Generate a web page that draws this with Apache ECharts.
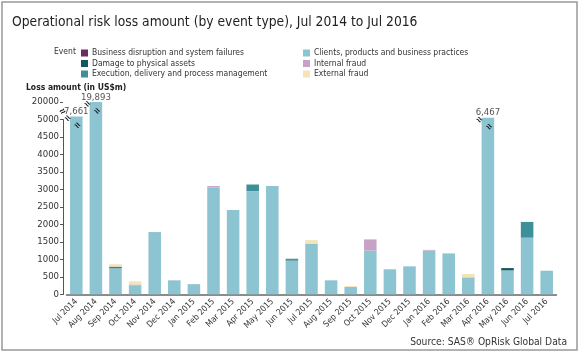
<!DOCTYPE html>
<html>
<head>
<meta charset="utf-8">
<script src="https://cdn.jsdelivr.net/npm/echarts@6/dist/echarts.min.js"></script>
<style>html,body{margin:0;padding:0;background:#fff;}#c{width:580px;height:358px;}</style>
</head>
<body>
<div id="c"></div>
<script>
const categories = ['Jul 2014','Aug 2014','Sep 2014','Oct 2014','Nov 2014','Dec 2014','Jan 2015','Feb 2015','Mar 2015','Apr 2015','May 2015','Jun 2015','Jul 2015','Aug 2015','Sep 2015','Oct 2015','Nov 2015','Dec 2015','Jan 2016','Feb 2016','Mar 2016','Apr 2016','May 2016','Jun 2016','Jul 2016'];
const clients   = [7661,19893,740,260,1780,400,285,3050,2410,2950,3100,960,1450,400,210,1250,715,800,1250,1170,485,6467,685,1620,675];
const execution = [0,0,20,0,0,0,5,0,0,190,0,35,0,0,0,0,0,0,0,0,0,0,0,450,0];
const damage    = [0,0,30,0,0,0,0,0,0,0,0,20,0,0,0,0,0,0,0,0,0,0,65,0,0];
const business  = [0,0,0,0,0,0,0,0,0,0,0,0,0,0,0,0,0,0,0,0,0,0,0,0,0];
const internal  = [0,0,0,20,0,0,0,45,0,0,0,0,0,0,0,320,0,0,20,0,0,0,0,0,0];
const external  = [0,0,70,90,0,0,0,0,0,0,0,0,100,0,25,0,0,0,0,0,95,0,0,0,0];
const breakStart = 5000, breakEnd = 20000;

const names = ['Business disruption and system failures','Damage to physical assets','Execution, delivery and process management','Clients, products and business practices','Internal fraud','External fraud'];
const colors = {
  'Business disruption and system failures':'#6b2e5f',
  'Damage to physical assets':'#14585f',
  'Execution, delivery and process management':'#3f8f9a',
  'Clients, products and business practices':'#8dc4d1',
  'Internal fraud':'#c8a2c6',
  'External fraud':'#f3e3b8'
};
const totals = categories.map((c,i)=>clients[i]+execution[i]+damage[i]+business[i]+internal[i]+external[i]);

const cv = document.createElement('canvas').getContext('2d');
function w(font, txt){ cv.font = font; return cv.measureText(txt).width; }
const probe = 'abcdefghijklmnopqrstuvwxyz ABCDEFGHIJ 0123456789';
function has(f){ return w('20px "'+f+'", monospace', probe) !== w('20px monospace', probe); }
const cands = ['Liberation Sans Narrow','DejaVu Sans Condensed','Roboto Condensed','Open Sans Condensed','Roboto'];
let FAM = 'Roboto';
for (const f of cands) { if (has(f)) { FAM = f; break; } }
const FONT = '"'+FAM+'", Roboto, sans-serif';
function fit(txt, target, maxSize, weight){
  const base = w((weight||'normal')+' 20px '+FONT, txt);
  return Math.min(maxSize, 20*target/base);
}
const titleSize = fit('Operational risk loss amount (by event type), Jul 2014 to Jul 2016', 406, 20);
const legSize = 8.5;
const srcSize = fit('Source: SAS® OpRisk Global Data', 157, 11);
const ynameSize = Math.max(8.5, fit('Loss amount (in US$m)', 92, 9.5, 'bold'));
const ylabSize = Math.max(9.5, fit('20000', 21, 10.5));
const xlabSize = Math.max(8.5, fit('Aug 2014', 33, 9.5));

const marks = [];
totals.forEach((t,i)=>{
  if (t > breakStart) {
    marks.push({coord:[i,t], value:t, label:{show:true, position:'inside', formatter: t.toLocaleString('en-US'), offset:[0,-5], color:'#555', fontSize:ylabSize, fontFamily:FONT}});
    marks.push({coord:[i,t], value:t, label:{show:true, position:'inside', formatter:'≈', offset:[-6,7], rotate:-35, color:'#111', fontSize:10, fontWeight:'bold'}});
    marks.push({coord:[i,t], value:t, label:{show:true, position:'inside', formatter:'≈', offset:[6,7], rotate:-35, color:'#111', fontSize:10, fontWeight:'bold'}});
  }
});

function mkSeries(name, data, extra) {
  return Object.assign({
    name: name, type:'bar', stack:'total', data: data,
    barCategoryGap:'36%',
    itemStyle:{color: colors[name]},
    emphasis:{disabled:true}
  }, extra||{});
}

const series = [
  mkSeries('Clients, products and business practices', clients),
  mkSeries('Execution, delivery and process management', execution),
  mkSeries('Damage to physical assets', damage),
  mkSeries('Business disruption and system failures', business),
  mkSeries('Internal fraud', internal),
  mkSeries('External fraud', external, {markPoint:{symbol:'circle', symbolSize:1, itemStyle:{color:'rgba(0,0,0,0)'}, data: marks, silent:true}})
];

const legText = {fontFamily:FONT, fontSize:legSize, color:'#333', padding:[0,0,0,-1], lineHeight:10};
const legBase = {orient:'vertical', itemWidth:7, itemHeight:7, itemGap:0.5, icon:'rect', selectedMode:false, padding:0, textStyle:legText};
const chart = echarts.init(document.getElementById('c'), null, {renderer:'canvas'});
chart.setOption({
  animation:false,
  backgroundColor:'#fff',
  title:[
    {text:'Operational risk loss amount (by event type), Jul 2014 to Jul 2016', left:7, top:10, textStyle:{fontFamily:FONT, fontSize:titleSize, fontWeight:'normal', color:'#222'}},
    {text:'Event', left:49, top:42, textStyle:{fontFamily:FONT, fontSize:legSize, fontWeight:'normal', color:'#333'}},
    {text:'Loss amount (in US$m)', left:21, top:78, textStyle:{fontFamily:FONT, fontSize:ynameSize, fontWeight:'bold', color:'#222'}},
    {text:'Source: SAS® OpRisk Global Data', right:8, top:332, textStyle:{fontFamily:FONT, fontSize:srcSize, fontWeight:'normal', color:'#333'}}
  ],
  legend:[
    Object.assign({data:names.slice(0,3), left:81, top:48}, legBase),
    Object.assign({data:names.slice(3), left:303, top:48}, legBase)
  ],
  grid:{left:66.5, right:23.5, top:102, bottom:63.7},
  xAxis:{
    type:'category', data:categories,
    axisLine:{lineStyle:{color:'#666', width:1.5}},
    axisTick:{show:false},
    axisLabel:{rotate:45, fontFamily:FONT, fontSize:xlabSize, color:'#333', margin:6, interval:0}
  },
  yAxis:{
    type:'value', min:0, max:breakEnd, interval:500, offset:3.5,
    breaks:[{start:breakStart, end:breakEnd, gap:500}],
    breakArea:{show:false},
    axisLine:{show:true, lineStyle:{color:'#555', width:1}},
    axisTick:{show:true, length:3, lineStyle:{color:'#555'}},
    splitLine:{show:false},
    axisLabel:{fontFamily:FONT, fontSize:ylabSize, color:'#333', margin:4, formatter: v => String(v)}
  },
  series: series
});
const midY = chart.convertToPixel({yAxisIndex:0}, (breakStart+breakEnd)/2);
chart.setOption({graphic:[
  {type:'rect', shape:{x:2, y:2, width:575, height:348}, style:{fill:'none', stroke:'#999', lineWidth:1.5}, silent:true},
  {type:'text', x:63, y:isFinite(midY)?midY+1:111, rotation:35*Math.PI/180, silent:true,
   style:{text:'≈', fill:'#111', fontSize:10, fontWeight:'bold', align:'center', verticalAlign:'middle'}}
]});
</script>
</body>
</html>
